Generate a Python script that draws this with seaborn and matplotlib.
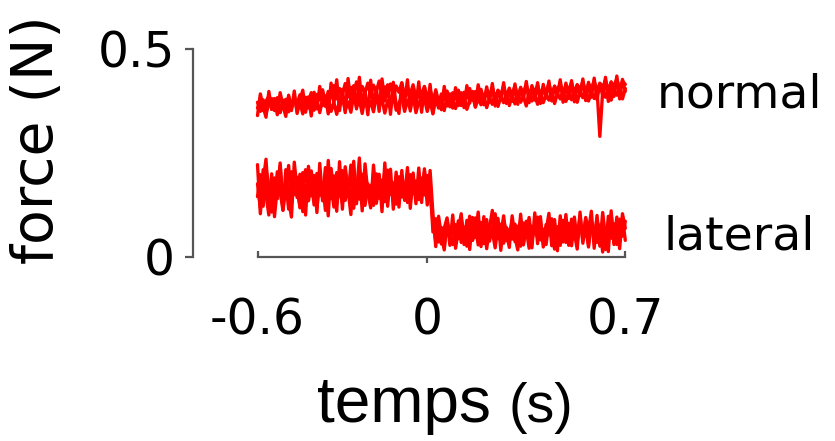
import numpy as np
import pandas as pd
import matplotlib
matplotlib.use("Agg")
import matplotlib.pyplot as plt
import seaborn as sns

# ---------------- data ----------------
time = np.round(np.arange(-0.60, 0.7001, 0.01), 2)  # 131 samples

normal_a = [
    0.372, 0.350, 0.378, 0.345, 0.368, 0.381, 0.352, 0.374, 0.347, 0.370,
    0.379, 0.349, 0.366, 0.384, 0.351, 0.372, 0.344, 0.377, 0.358, 0.382,
    0.353, 0.375, 0.347, 0.380, 0.362, 0.386, 0.350, 0.371, 0.343, 0.378,
    0.385, 0.352, 0.373, 0.348, 0.389, 0.360, 0.378, 0.345, 0.382, 0.356,
    0.374, 0.349, 0.387, 0.361, 0.380, 0.346, 0.376, 0.358, 0.390, 0.353,
    0.371, 0.384, 0.350, 0.377, 0.356, 0.388, 0.347, 0.373, 0.362, 0.381,
    0.350, 0.376, 0.344, 0.381, 0.358, 0.374, 0.352, 0.386, 0.361, 0.378,
    0.357, 0.383, 0.364, 0.389, 0.355, 0.376, 0.392, 0.360, 0.381, 0.366,
    0.388, 0.359, 0.382, 0.367, 0.393, 0.362, 0.385, 0.371, 0.396, 0.364,
    0.389, 0.368, 0.395, 0.372, 0.386, 0.363, 0.398, 0.375, 0.391, 0.367,
    0.396, 0.371, 0.390, 0.377, 0.401, 0.369, 0.393, 0.380, 0.399, 0.374,
    0.395, 0.378, 0.404, 0.372, 0.398, 0.383, 0.406, 0.375, 0.397, 0.381,
    0.403, 0.290, 0.399, 0.384, 0.408, 0.377, 0.402, 0.389, 0.411, 0.380, 0.405,
]
normal_b = [
    0.358, 0.380, 0.352, 0.375, 0.386, 0.355, 0.371, 0.383, 0.349, 0.377,
    0.362, 0.385, 0.357, 0.379, 0.368, 0.390, 0.361, 0.384, 0.372, 0.395,
    0.366, 0.391, 0.378, 0.402, 0.371, 0.398, 0.384, 0.412, 0.380, 0.405,
    0.389, 0.417, 0.385, 0.408, 0.392, 0.421, 0.384, 0.410, 0.395, 0.418,
    0.387, 0.413, 0.398, 0.423, 0.386, 0.409, 0.393, 0.416, 0.382, 0.411,
    0.396, 0.419, 0.385, 0.407, 0.391, 0.414, 0.383, 0.404, 0.392, 0.410,
    0.381, 0.403, 0.376, 0.398, 0.369, 0.392, 0.378, 0.399, 0.372, 0.395,
    0.380, 0.401, 0.374, 0.396, 0.383, 0.405, 0.377, 0.398, 0.386, 0.403,
    0.379, 0.402, 0.388, 0.408, 0.381, 0.400, 0.390, 0.410, 0.384, 0.404,
    0.392, 0.411, 0.385, 0.406, 0.395, 0.414, 0.387, 0.409, 0.398, 0.412,
    0.389, 0.408, 0.397, 0.416, 0.391, 0.410, 0.400, 0.418, 0.393, 0.413,
    0.402, 0.419, 0.395, 0.414, 0.404, 0.421, 0.397, 0.416, 0.406, 0.422,
    0.399, 0.418, 0.408, 0.425, 0.401, 0.420, 0.411, 0.428, 0.404, 0.423, 0.415,
]
normal_c = [
    0.340, 0.392, 0.361, 0.336, 0.398, 0.355, 0.381, 0.342, 0.395, 0.364,
    0.338, 0.389, 0.352, 0.399, 0.345, 0.376, 0.401, 0.348, 0.385, 0.339,
    0.396, 0.356, 0.410, 0.364, 0.387, 0.344, 0.418, 0.369, 0.426, 0.352,
    0.403, 0.347, 0.429, 0.371, 0.412, 0.356, 0.432, 0.365, 0.399, 0.342,
    0.425, 0.359, 0.406, 0.350, 0.428, 0.375, 0.414, 0.343, 0.420, 0.366,
    0.345, 0.418, 0.372, 0.426, 0.351, 0.401, 0.362, 0.421, 0.348, 0.409,
    0.357, 0.415, 0.346, 0.402, 0.371, 0.354, 0.410, 0.363, 0.392, 0.358,
    0.407, 0.364, 0.395, 0.359, 0.412, 0.370, 0.398, 0.362, 0.414, 0.375,
    0.366, 0.409, 0.372, 0.417, 0.363, 0.401, 0.378, 0.419, 0.369, 0.406,
    0.374, 0.416, 0.367, 0.408, 0.380, 0.422, 0.371, 0.412, 0.377, 0.419,
    0.369, 0.415, 0.382, 0.423, 0.375, 0.411, 0.386, 0.426, 0.372, 0.418,
    0.381, 0.424, 0.373, 0.414, 0.388, 0.428, 0.376, 0.420, 0.384, 0.430,
    0.378, 0.416, 0.389, 0.432, 0.374, 0.421, 0.386, 0.435, 0.380, 0.427, 0.398,
]
lateral_a = [
    0.145, 0.198, 0.122, 0.215, 0.168, 0.108, 0.190, 0.140, 0.226, 0.130,
    0.182, 0.115, 0.205, 0.150, 0.192, 0.118, 0.174, 0.210, 0.135, 0.186,
    0.125, 0.201, 0.148, 0.178, 0.112, 0.232, 0.140, 0.195, 0.128, 0.170,
    0.208, 0.136, 0.183, 0.121, 0.196, 0.152, 0.238, 0.130, 0.188, 0.146,
    0.172, 0.124, 0.200, 0.141, 0.185, 0.133, 0.209, 0.150, 0.178, 0.127,
    0.193, 0.144, 0.176, 0.131, 0.198, 0.152, 0.183, 0.138, 0.190, 0.149,
    0.196, 0.150, 0.085, 0.040, 0.078, 0.031, 0.069, 0.094, 0.042, 0.080,
    0.048, 0.087, 0.035, 0.072, 0.055, 0.098, 0.040, 0.076, 0.029, 0.083,
    0.051, 0.090, 0.038, 0.068, 0.104, 0.044, 0.079, 0.033, 0.071, 0.052,
    0.088, 0.037, 0.074, 0.026, 0.082, 0.057, 0.095, 0.041, 0.070, 0.046,
    0.085, 0.034, 0.078, 0.053, 0.092, 0.039, 0.073, 0.028, 0.086, 0.049,
    0.081, 0.043, 0.096, 0.036, 0.075, 0.055, 0.089, 0.031, 0.079, 0.047,
    0.093, 0.038, 0.084, 0.018, 0.098, 0.045, 0.080, 0.030, 0.091, 0.050, 0.086,
]
lateral_b = [
    0.176, 0.118, 0.210, 0.150, 0.101, 0.188, 0.132, 0.205, 0.156, 0.112,
    0.167, 0.220, 0.128, 0.180, 0.143, 0.199, 0.109, 0.171, 0.137, 0.207,
    0.160, 0.118, 0.187, 0.141, 0.215, 0.133, 0.176, 0.120, 0.203, 0.158,
    0.130, 0.191, 0.145, 0.221, 0.117, 0.180, 0.139, 0.199, 0.124, 0.176,
    0.143, 0.196, 0.129, 0.170, 0.152, 0.207, 0.135, 0.185, 0.142, 0.193,
    0.138, 0.179, 0.150, 0.201, 0.133, 0.172, 0.145, 0.190, 0.155, 0.205,
    0.142, 0.180, 0.060, 0.092, 0.036, 0.071, 0.024, 0.085, 0.052, 0.030,
    0.078, 0.044, 0.091, 0.057, 0.026, 0.069, 0.040, 0.094, 0.050, 0.073,
    0.032, 0.081, 0.046, 0.062, 0.022, 0.077, 0.053, 0.099, 0.039, 0.066,
    0.043, 0.079, 0.055, 0.090, 0.033, 0.068, 0.021, 0.074, 0.058, 0.096,
    0.041, 0.067, 0.030, 0.082, 0.056, 0.019, 0.071, 0.045, 0.088, 0.035,
    0.064, 0.027, 0.083, 0.050, 0.098, 0.039, 0.069, 0.024, 0.086, 0.058,
    0.035, 0.077, 0.012, 0.070, 0.044, 0.101, 0.033, 0.072, 0.054, 0.095, 0.040,
]
lateral_c = [
    0.222, 0.104, 0.183, 0.235, 0.126, 0.200, 0.097, 0.168, 0.219, 0.113,
    0.210, 0.138, 0.096, 0.228, 0.160, 0.121, 0.203, 0.101, 0.218, 0.147,
    0.196, 0.107, 0.225, 0.135, 0.190, 0.099, 0.213, 0.161, 0.110, 0.229,
    0.115, 0.217, 0.162, 0.102, 0.230, 0.128, 0.206, 0.111, 0.224, 0.155,
    0.118, 0.221, 0.143, 0.199, 0.109, 0.226, 0.122, 0.211, 0.115, 0.204,
    0.120, 0.208, 0.136, 0.215, 0.117, 0.202, 0.128, 0.214, 0.131, 0.212,
    0.125, 0.208, 0.105, 0.025, 0.098, 0.052, 0.017, 0.090, 0.028, 0.101,
    0.021, 0.065, 0.104, 0.030, 0.088, 0.018, 0.095, 0.047, 0.108, 0.025,
    0.097, 0.020, 0.070, 0.112, 0.031, 0.093, 0.016, 0.087, 0.059, 0.023,
    0.099, 0.048, 0.017, 0.103, 0.029, 0.086, 0.060, 0.022, 0.106, 0.032,
    0.097, 0.024, 0.063, 0.105, 0.027, 0.090, 0.015, 0.099, 0.036, 0.102,
    0.028, 0.091, 0.058, 0.019, 0.108, 0.033, 0.095, 0.062, 0.110, 0.021,
    0.100, 0.026, 0.107, 0.048, 0.013, 0.111, 0.030, 0.096, 0.020, 0.104, 0.069,
]

series_names = ["normal", "lateral"]
xtick_values = [-0.6, 0, 0.7]
xtick_labels = ["-0.6", "0", "0.7"]
ytick_values = [0, 0.5]
ytick_labels = ["0", "0.5"]

# ---------------- build table ----------------
traces = [("normal", "a", normal_a), ("normal", "b", normal_b), ("normal", "c", normal_c),
          ("lateral", "a", lateral_a), ("lateral", "b", lateral_b), ("lateral", "c", lateral_c)]
frames = []
for name, trial, vals in traces:
    frames.append(pd.DataFrame({"time": time, "force": vals,
                                "series": name, "trace": name + trial}))
df = pd.concat(frames, ignore_index=True)

# ---------------- plot ----------------
sns.set_style("white")
plt.rcParams["font.family"] = ["DejaVu Sans"]
plt.rcParams["text.color"] = "black"
plt.rcParams["xtick.color"] = "black"
plt.rcParams["ytick.color"] = "black"

W, H = 835, 441
fig = plt.figure(figsize=(W / 100, H / 100), dpi=100)
ax = fig.add_axes([193 / W, (H - 257) / H, 434 / W, 208 / H])

sns.lineplot(data=df, x="time", y="force", units="trace", estimator=None,
             color="#ff0000", lw=2.4, ax=ax, legend=False)

ax.set_xlim(-0.828, 0.706)
ax.set_ylim(0, 0.5)
ax.set_xlabel("")
ax.set_ylabel("")

for s in ["top", "right"]:
    ax.spines[s].set_visible(False)
spine_col = "#555555"
ax.spines["left"].set_bounds(0, 0.5)
ax.spines["bottom"].set_bounds(-0.6, 0.7)
for s in ["left", "bottom"]:
    ax.spines[s].set_color(spine_col)
    ax.spines[s].set_linewidth(1.6)

ax.set_yticks(ytick_values)
ax.set_yticklabels(ytick_labels)
ax.tick_params(axis="y", which="both", left=True, direction="out", length=5.5,
               width=1.6, color=spine_col, labelcolor="black", pad=7.5, labelsize=35)

ax.set_xticks([xtick_values[1]])
ax.set_xticklabels([xtick_labels[1]])
ax.set_xticks([xtick_values[0], xtick_values[2]], minor=True)
ax.set_xticklabels([xtick_labels[0], xtick_labels[2]], minor=True)
ax.tick_params(axis="x", which="major", bottom=True, direction="out", length=4.5,
               width=1.6, color=spine_col, labelcolor="black", pad=24, labelsize=35)
ax.tick_params(axis="x", which="minor", bottom=True, direction="in", length=4.5,
               width=1.6, color=spine_col, labelcolor="black", pad=28.5, labelsize=35)

# series labels
fig.text(657 / W, (H - 107) / H, series_names[0], fontsize=34, color="black",
         ha="left", va="baseline")
fig.text(663 / W, (H - 250) / H, series_names[1], fontsize=34, color="black",
         ha="left", va="baseline")

# axis titles
fig.text(38 / W, (H - 140) / H, "force (N)", fontsize=41, rotation=90, color="black",
         ha="center", va="center")
fig.text(317 / W, (H - 422) / H, "temps", fontsize=46, family="Liberation Sans",
         color="black", ha="left", va="baseline")
fig.text(508 / W, (H - 422) / H, "(s)", fontsize=40, family="Liberation Sans",
         color="black", ha="left", va="baseline")

fig.savefig("out.png", dpi=100)
